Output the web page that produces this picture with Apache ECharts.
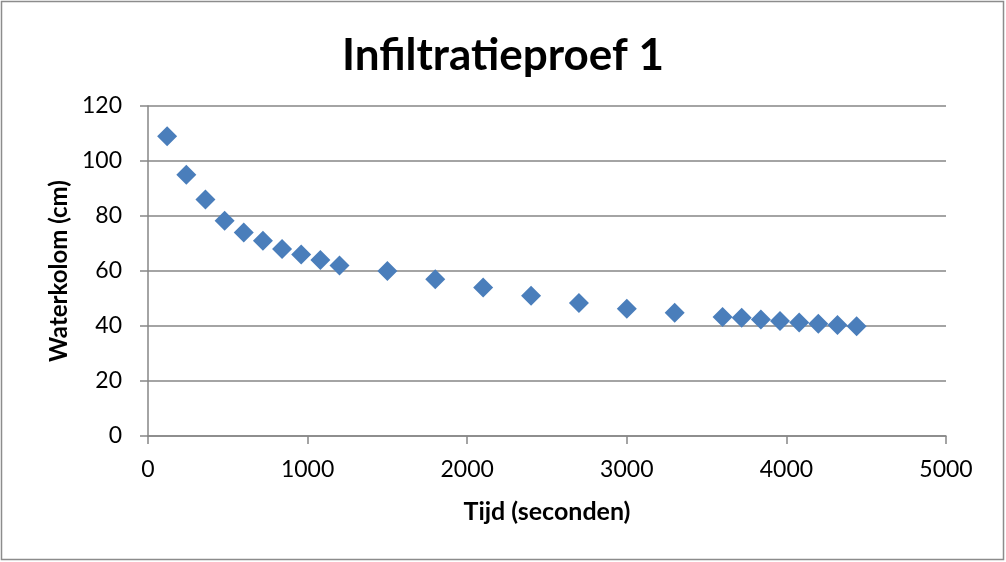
<!DOCTYPE html>
<html>
<head>
<meta charset="utf-8">
<script src="https://cdn.jsdelivr.net/npm/echarts@6/dist/echarts.min.js"></script>
<style>
  html, body { margin: 0; padding: 0; background: #ffffff; }
  #chart { width: 1006px; height: 562px; }
</style>
</head>
<body>
<div id="chart"></div>
<script>
// Measurements: elapsed time (s) and water column height (cm)
const tijd = [120, 240, 360, 480, 600, 720, 840, 960, 1080, 1200,
              1500, 1800, 2100, 2400, 2700, 3000, 3300, 3600,
              3720, 3840, 3960, 4080, 4200, 4320, 4440];
const waterkolom = [109, 95, 86, 78.3, 74, 71, 68, 66, 64, 62,
                    60, 57, 54, 51, 48.4, 46.3, 44.8, 43.3,
                    43, 42.4, 41.8, 41.3, 40.8, 40.4, 39.9];

const titel = 'Infiltratieproef 1';
const xNaam = 'Tijd (seconden)';
const yNaam = 'Waterkolom (cm)';

const punten = tijd.map((t, i) => [t, waterkolom[i]]);
const font = 'Lato, "Open Sans", sans-serif';
const gridKleur = '#868686';

const chart = echarts.init(document.getElementById('chart'));
chart.setOption({
  animation: false,
  // thin frame around the whole chart area
  graphic: [{
    type: 'rect',
    shape: { x: 1.5, y: 1.5, width: 1002, height: 558 },
    style: { fill: 'none', stroke: '#8c8c8c', lineWidth: 1.5 },
    silent: true
  }],
  title: {
    text: titel,
    left: 'center',
    top: 29,
    textStyle: { fontFamily: font, fontSize: 44, fontWeight: 'bold', color: '#000' }
  },
  grid: { left: 148, right: 60, top: 106, bottom: 126, containLabel: false },
  xAxis: {
    type: 'value',
    min: 0, max: 5000, interval: 1000,
    name: xNaam,
    nameLocation: 'middle',
    nameGap: 63,
    nameTextStyle: { fontFamily: font, fontSize: 25, fontWeight: 'bold', color: '#000' },
    axisLine: { show: true, lineStyle: { color: gridKleur, width: 1.5 } },
    axisTick: { show: true, inside: false, length: 8, lineStyle: { color: gridKleur, width: 1.5 } },
    axisLabel: { fontFamily: font, fontSize: 23, color: '#000', margin: 22, formatter: v => String(v) },
    splitLine: { show: false }
  },
  yAxis: {
    type: 'value',
    min: 0, max: 120, interval: 20,
    name: yNaam,
    nameLocation: 'middle',
    nameGap: 76,
    nameRotate: 90,
    nameTextStyle: { fontFamily: font, fontSize: 24, fontWeight: 'bold', color: '#000' },
    axisLine: { show: true, lineStyle: { color: gridKleur, width: 1.5 } },
    axisTick: { show: true, inside: false, length: 8, lineStyle: { color: gridKleur, width: 1.5 } },
    axisLabel: { fontFamily: font, fontSize: 23, color: '#000', margin: 26, formatter: v => String(v) },
    splitLine: { show: true, lineStyle: { color: gridKleur, width: 1.5 } }
  },
  series: [{
    type: 'scatter',
    data: punten,
    symbol: 'diamond',
    symbolSize: [20, 20],
    itemStyle: { color: '#4a7ebb', opacity: 1 }
  }]
});
</script>
</body>
</html>
